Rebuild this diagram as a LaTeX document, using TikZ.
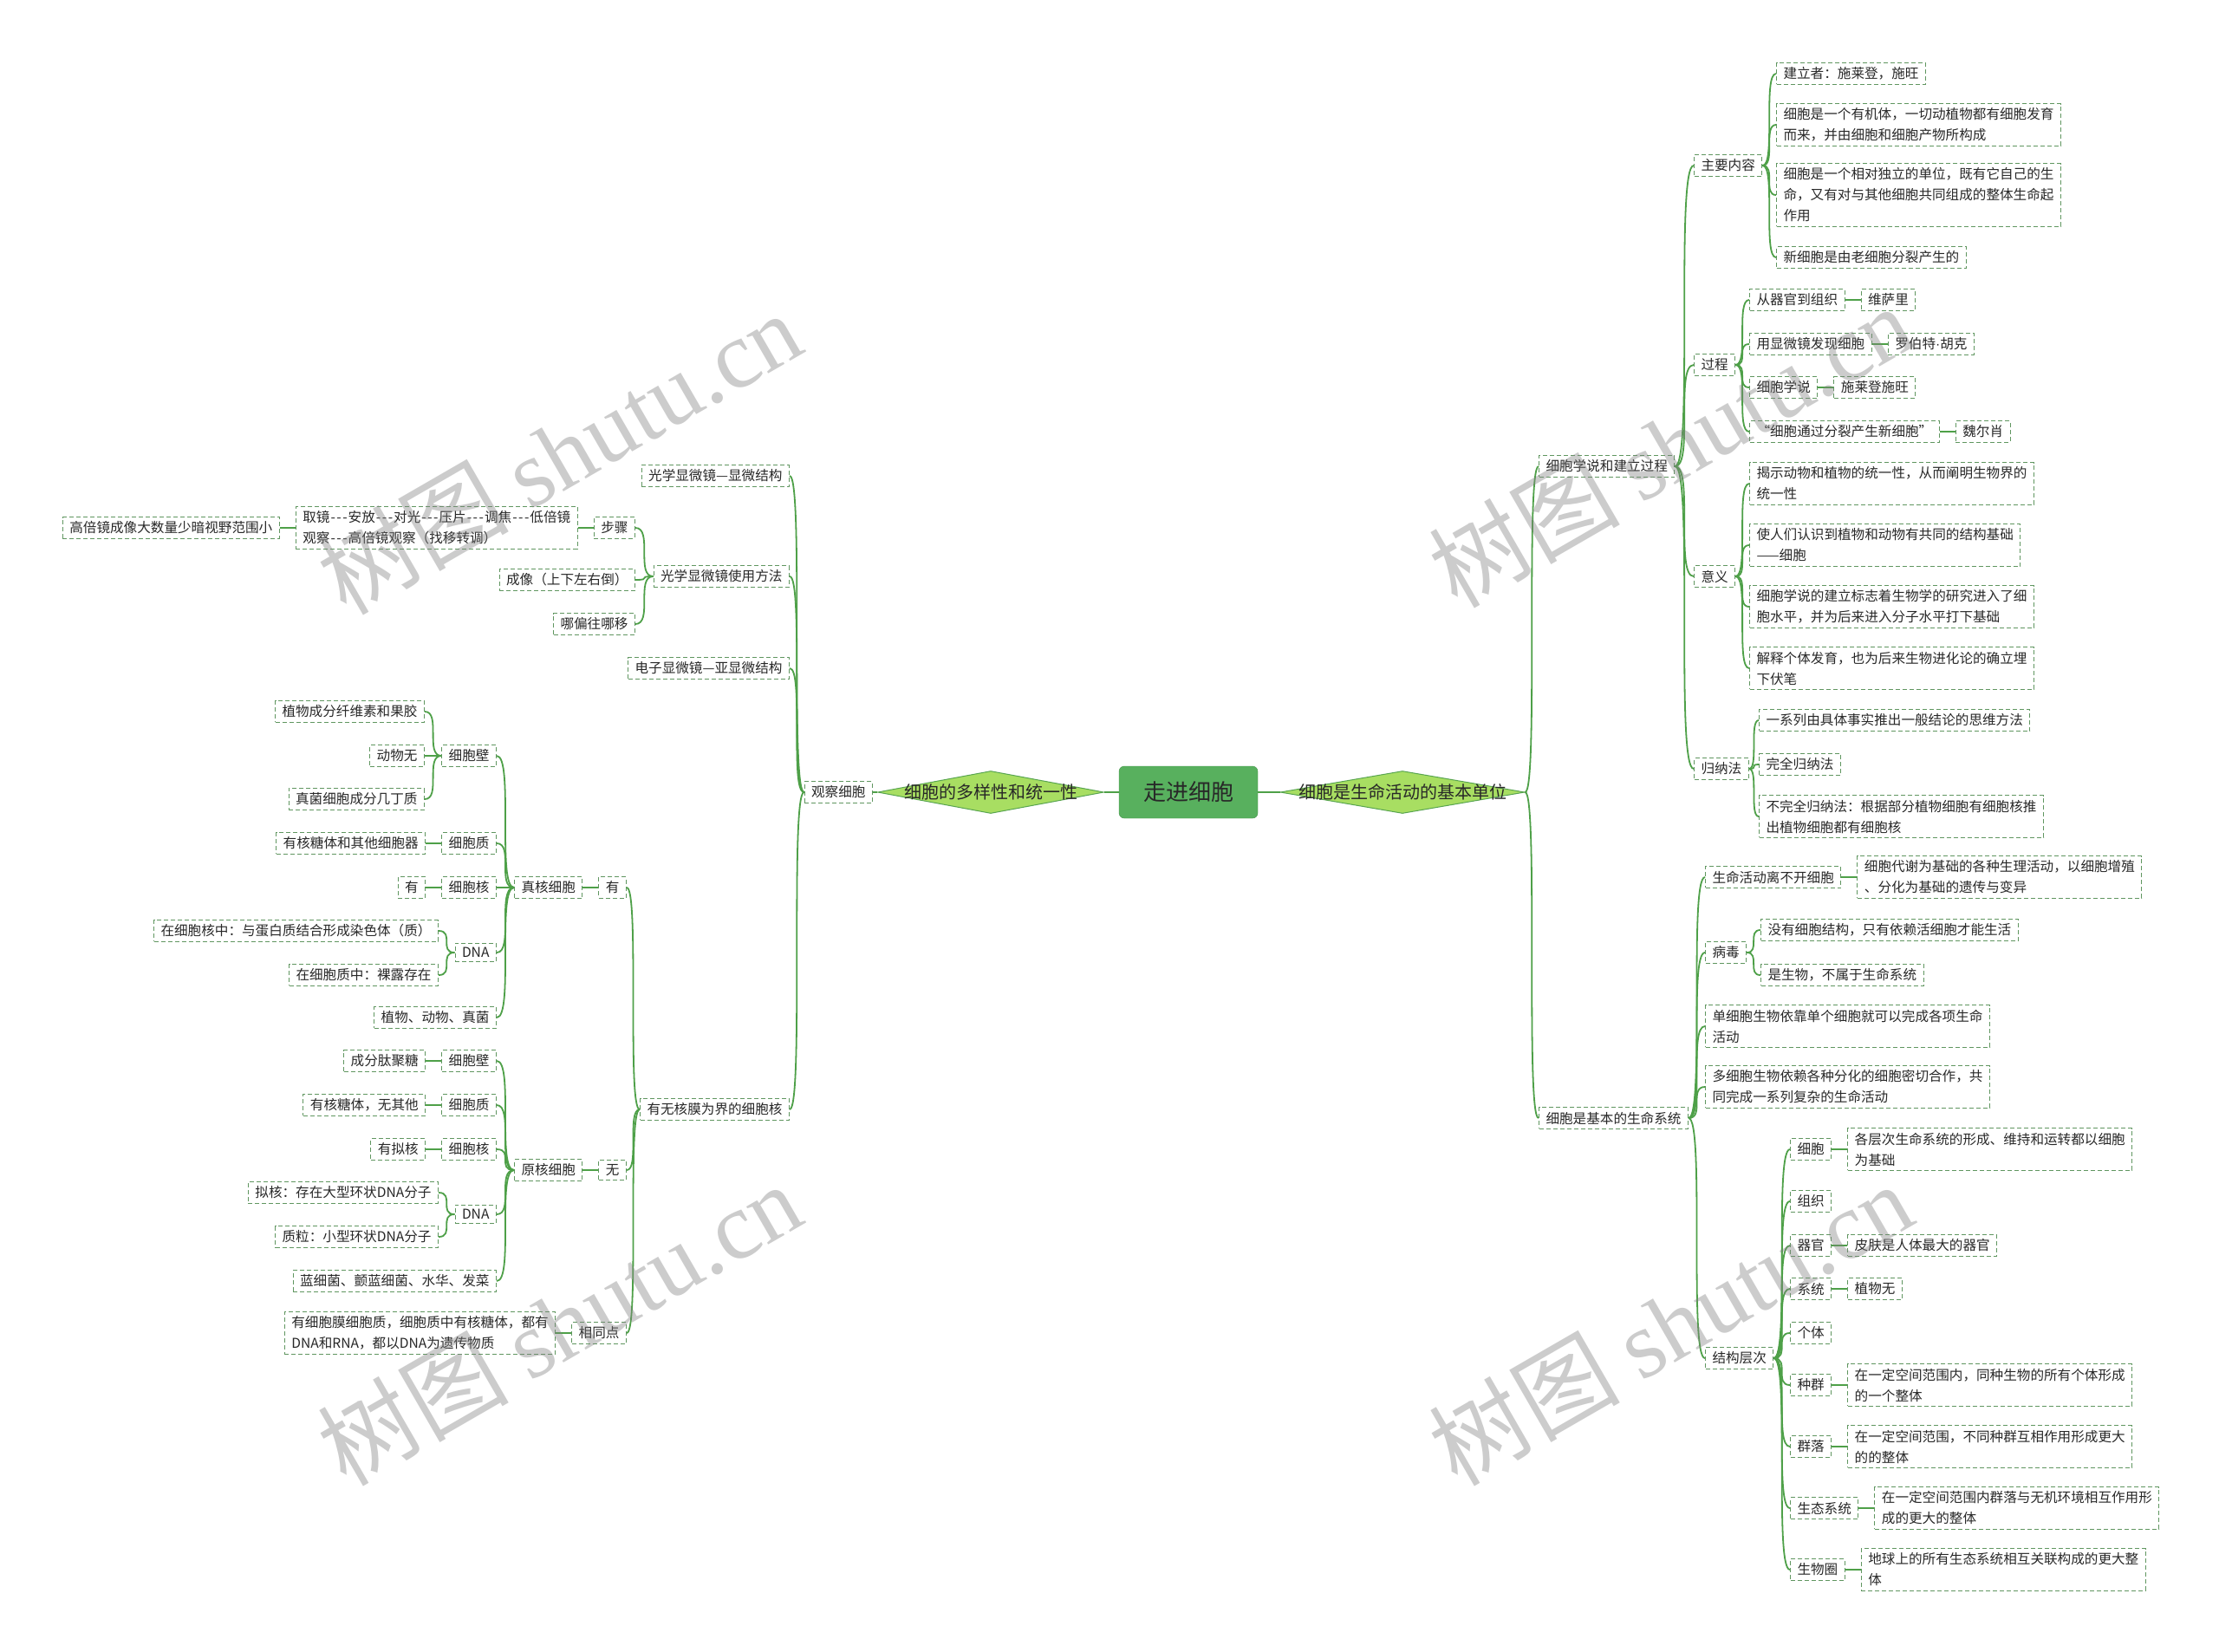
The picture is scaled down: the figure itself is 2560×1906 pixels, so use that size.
\documentclass[tikz,border=0pt]{standalone}
\usepackage{fontspec}
\setmainfont{Noto Sans CJK SC}
\newfontfamily\wmserif{Liberation Serif}
\newfontfamily\latinf{Liberation Sans}
\usetikzlibrary{positioning,shapes.geometric}
\definecolor{lgreen}{RGB}{78,160,72}
\definecolor{boxc}{RGB}{96,150,96}
\definecolor{dfill}{RGB}{168,222,98}
\definecolor{dborder}{RGB}{88,165,80}
\definecolor{rootf}{RGB}{88,176,94}
\definecolor{rootb}{RGB}{70,150,76}
\definecolor{txt}{RGB}{40,40,40}
\newcommand{\tdash}{\kern1pt-\kern1.5pt-\kern1.5pt-\kern1pt}

\begin{document}
\begin{tikzpicture}[x=1pt, y=-1pt,
  box/.style={draw=boxc, dash pattern=on 5pt off 3pt, line width=1pt,
              inner xsep=8pt, inner ysep=5pt, text=txt, align=left,
              font=\fontsize{15.6pt}{24pt}\selectfont},
  rbox/.style={box, anchor=west},
  lbox/.style={box, anchor=east},
  dia/.style={shape=diamond, draw=dborder, fill=dfill, line width=1pt, inner sep=0pt,
              minimum width=#1, minimum height=49pt, text=txt,
              font=\fontsize{20pt}{24pt}\selectfont},
  br/.style={draw=lgreen, line width=1.8pt,
             to path={.. controls (\tikztostart -| \tikztotarget) and (\tikztotarget -| \tikztostart) .. (\tikztotarget)}},
  wm/.style={text=gray, opacity=0.4, rotate=30, font=\fontsize{110pt}{120pt}\selectfont},
  node distance=18pt,
]
\fill[white] (0,0) rectangle (2560,1906);
\useasboundingbox (0,0) rectangle (2560,1906);

% Centre: title and the two diamonds
\node[draw=rootb, fill=rootf, rounded corners=6pt, minimum width=160pt, minimum height=60pt,
      text=txt, font=\fontsize{26pt}{30pt}\selectfont] (root) at (1371,914) {走进细胞};
\node[dia=282pt] (rd) at (1618,914) {\makebox[0pt]{细胞是生命活动的基本单位}};
\node[dia=261pt] (ld) at (1143,914) {\makebox[0pt]{细胞的多样性和统一性}};

% Right: cell theory
\node[rbox] (th) at (1775,538)  {细胞学说和建立过程};
\node[rbox] (ls) at (1775,1290) {细胞是基本的生命系统};
\node[rbox] (zy) at (1954,191) {主要内容};
\node[rbox] (gc) at (1954,421) {过程};
\node[rbox] (yy) at (1954,665) {意义};
\node[rbox] (gn) at (1954,887) {归纳法};

\node[rbox] (zy1) at (2049,85)  {建立者：施莱登，施旺};
\node[rbox] (zy2) at (2049,144) {细胞是一个有机体，一切动植物都有细胞发育\\而来，并由细胞和细胞产物所构成};
\node[rbox] (zy3) at (2049,225) {细胞是一个相对独立的单位，既有它自己的生\\命，又有对与其他细胞共同组成的整体生命起\\作用};
\node[rbox] (zy4) at (2049,297) {新细胞是由老细胞分裂产生的};

\node[rbox] (gc1) at (2018,346) {从器官到组织};
\node[rbox] (gc2) at (2018,397) {用显微镜发现细胞};
\node[rbox] (gc3) at (2018,447) {细胞学说};
\node[rbox] (gc4) at (2018,498) {“细胞通过分裂产生新细胞”};
\node[rbox, right=of gc1] (gc1r) {维萨里};
\node[rbox, right=of gc2] (gc2r) {罗伯特{\latinf ·}胡克};
\node[rbox, right=of gc3] (gc3r) {施莱登施旺};
\node[rbox, right=of gc4] (gc4r) {魏尔肖};

\node[rbox] (yy1) at (2018,558) {揭示动物和植物的统一性，从而阐明生物界的\\统一性};
\node[rbox] (yy2) at (2018,629) {使人们认识到植物和动物有共同的结构基础\\——细胞};
\node[rbox] (yy3) at (2018,700) {细胞学说的建立标志着生物学的研究进入了细\\胞水平，并为后来进入分子水平打下基础};
\node[rbox] (yy4) at (2018,771) {解释个体发育，也为后来生物进化论的确立埋\\下伏笔};

\node[rbox] (gn1) at (2029,831) {一系列由具体事实推出一般结论的思维方法};
\node[rbox] (gn2) at (2029,882) {完全归纳法};
\node[rbox] (gn3) at (2029,942) {不完全归纳法：根据部分植物细胞有细胞核推\\出植物细胞都有细胞核};

% Right: life system
\node[rbox] (sm) at (1967,1012) {生命活动离不开细胞};
\node[rbox, right=of sm] (smr) {细胞代谢为基础的各种生理活动，以细胞增殖\\、分化为基础的遗传与变异};
\node[rbox] (bd)  at (1967,1099) {病毒};
\node[rbox] (bd1) at (2031,1073) {没有细胞结构，只有依赖活细胞才能生活};
\node[rbox] (bd2) at (2031,1125) {是生物，不属于生命系统};
\node[rbox] (dx)  at (1967,1184) {单细胞生物依靠单个细胞就可以完成各项生命\\活动};
\node[rbox] (dd)  at (1967,1254) {多细胞生物依赖各种分化的细胞密切合作，共\\同完成一系列复杂的生命活动};
\node[rbox] (jg)  at (1967,1567) {结构层次};

\foreach \n/\y/\t in {j1/1326/细胞, j2/1386/组织, j3/1437/器官, j4/1487/系统, j5/1538/个体,
                      j6/1598/种群, j7/1669/群落, j8/1740/生态系统, j9/1811/生物圈}
  \node[rbox] (\n) at (2065,\y) {\t};
\node[rbox, right=of j1] (j1d) {各层次生命系统的形成、维持和运转都以细胞\\为基础};
\node[rbox, right=of j3] (j3d) {皮肤是人体最大的器官};
\node[rbox, right=of j4] (j4d) {植物无};
\node[rbox, right=of j6] (j6d) {在一定空间范围内，同种生物的所有个体形成\\的一个整体};
\node[rbox, right=of j7] (j7d) {在一定空间范围，不同种群互相作用形成更大\\的的整体};
\node[rbox, right=of j8] (j8d) {在一定空间范围内群落与无机环境相互作用形\\成的更大的整体};
\node[rbox, right=of j9] (j9d) {地球上的所有生态系统相互关联构成的更大整\\体};

% Left: observing cells
\node[lbox] (ob) at (1007,914) {观察细胞};
\node[lbox] (o1) at (911,549)  {光学显微镜—显微结构};
\node[lbox] (o2) at (911,665)  {光学显微镜使用方法};
\node[lbox] (o3) at (911,771)  {电子显微镜—亚显微结构};
\node[lbox] (o4) at (911,1280) {有无核膜为界的细胞核};

\node[lbox] (bz) at (733,609) {步骤};
\node[lbox, left=of bz]  (bz1) {取镜\tdash 安放\tdash 对光\tdash 压片\tdash 调焦\tdash 低倍镜\\观察\tdash 高倍镜观察（找移转调）};
\node[lbox, left=of bz1] (bz2) {高倍镜成像大数量少暗视野范围小};
\node[lbox] (cx) at (733,669) {成像（上下左右倒）};
\node[lbox] (pz) at (733,720) {哪偏往哪移};

\node[lbox] (you) at (723,1024) {有};
\node[lbox] (wu)  at (723,1350) {无};
\node[lbox] (xt)  at (723,1538) {相同点};
\node[lbox, left=of you] (zh) {真核细胞};
\node[lbox, left=of wu]  (yh) {原核细胞};
\node[lbox, left=of xt]  (xt1) {有细胞膜细胞质，细胞质中有核糖体，都有\\DNA和RNA，都以DNA为遗传物质};

% eukaryote
\node[lbox] (zb) at (573,872)  {细胞壁};
\node[lbox] (zz) at (573,973)  {细胞质};
\node[lbox] (zn) at (573,1024) {细胞核};
\node[lbox] (zd) at (573,1099) {DNA};
\node[lbox] (zl) at (573,1174) {植物、动物、真菌};
\node[lbox] (zb1) at (490,821) {植物成分纤维素和果胶};
\node[lbox] (zb2) at (490,872) {动物无};
\node[lbox] (zb3) at (490,922) {真菌细胞成分几丁质};
\node[lbox, left=of zz] (zz1) {有核糖体和其他细胞器};
\node[lbox, left=of zn] (zn1) {有};
\node[lbox] (zd1) at (506,1074) {在细胞核中：与蛋白质结合形成染色体（质）};
\node[lbox] (zd2) at (506,1125) {在细胞质中：裸露存在};

% prokaryote
\node[lbox] (yb) at (573,1224) {细胞壁};
\node[lbox] (yz) at (573,1275) {细胞质};
\node[lbox] (yn) at (573,1326) {细胞核};
\node[lbox] (yd) at (573,1401) {DNA};
\node[lbox] (yl) at (573,1478) {蓝细菌、颤蓝细菌、水华、发菜};
\node[lbox, left=of yb] (yb1) {成分肽聚糖};
\node[lbox, left=of yz] (yz1) {有核糖体，无其他};
\node[lbox, left=of yn] (yn1) {有拟核};
\node[lbox] (yd1) at (506,1376) {拟核：存在大型环状DNA分子};
\node[lbox] (yd2) at (506,1427) {质粒：小型环状DNA分子};

% connectors
\foreach \p/\c in {root/rd, rd/th, rd/ls, th/zy, th/gc, th/yy, th/gn,
                   zy/zy1, zy/zy2, zy/zy3, zy/zy4, gc/gc1, gc/gc2, gc/gc3, gc/gc4,
                   gc1/gc1r, gc2/gc2r, gc3/gc3r, gc4/gc4r, yy/yy1, yy/yy2, yy/yy3, yy/yy4,
                   gn/gn1, gn/gn2, gn/gn3, ls/sm, ls/bd, ls/dx, ls/dd, ls/jg, sm/smr,
                   bd/bd1, bd/bd2, jg/j1, jg/j2, jg/j3, jg/j4, jg/j5, jg/j6, jg/j7, jg/j8, jg/j9,
                   j1/j1d, j3/j3d, j4/j4d, j6/j6d, j7/j7d, j8/j8d, j9/j9d}
  \draw[br] (\p.east) to (\c.west);
\foreach \p/\c in {root/ld, ld/ob, ob/o1, ob/o2, ob/o3, ob/o4, o2/bz, o2/cx, o2/pz,
                   bz/bz1, bz1/bz2, o4/you, o4/wu, o4/xt, you/zh, wu/yh, xt/xt1,
                   zh/zb, zh/zz, zh/zn, zh/zd, zh/zl, zb/zb1, zb/zb2, zb/zb3, zz/zz1, zn/zn1,
                   zd/zd1, zd/zd2, yh/yb, yh/yz, yh/yn, yh/yd, yh/yl, yb/yb1, yz/yz1, yn/yn1,
                   yd/yd1, yd/yd2}
  \draw[br] (\p.west) to (\c.east);

% watermarks
\node[wm] (w1) at (645,522)   {树图 {\wmserif shutu.cn}};
\node[wm] (w2) at (645,1527)  {树图 {\wmserif shutu.cn}};
\node[wm] (w3) at (1927,514)  {树图 {\wmserif shutu.cn}};
\node[wm] (w4) at (1927,1527) {树图 {\wmserif shutu.cn}};
\end{tikzpicture}
\end{document}
